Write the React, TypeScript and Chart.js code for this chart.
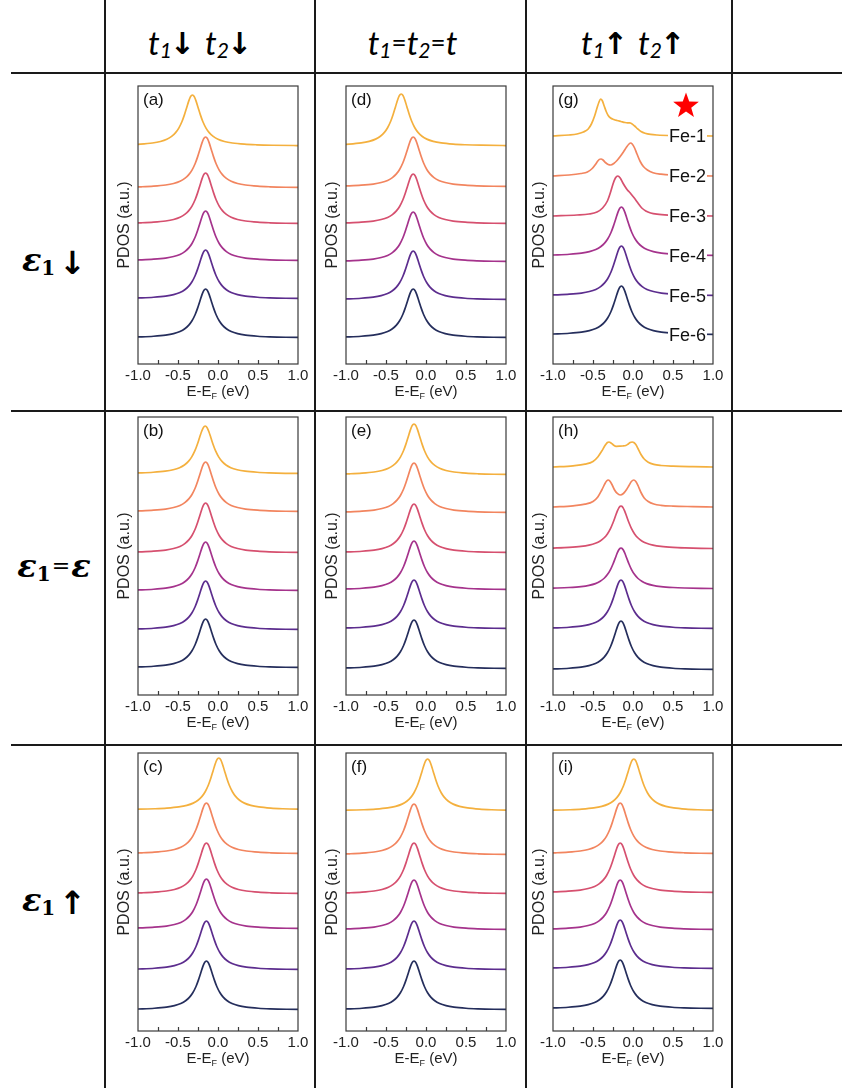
import React, { useEffect, useRef } from "react";
import { Chart, registerables } from "chart.js";

Chart.register(...registerables);

// ---------------- data ----------------
const X_TICKS = [-1, -0.5, 0, 0.5, 1];
const MINOR_TICKS = [-0.75, -0.5, -0.25, 0, 0.25, 0.5, 0.75];
const Y_RANGE = [0, 278];
const SERIES_NAMES = ["Fe-1", "Fe-2", "Fe-3", "Fe-4", "Fe-5", "Fe-6"];
const SERIES_COLORS = ["#F4B03E", "#F2855F", "#D6506F", "#A5338C", "#5C2D8E", "#252E5C"];

// single-peak profile (energy offset from peak, relative height)
const PEAK_DE = [-1.5, -1.3, -1.0, -0.8, -0.65, -0.5, -0.4, -0.32, -0.26, -0.21, -0.17, -0.13, -0.1, -0.07, -0.045, -0.025, -0.01, 0, 0.01, 0.025, 0.045, 0.07, 0.1, 0.13, 0.17, 0.21, 0.26, 0.32, 0.4, 0.5, 0.65, 0.8, 1.0, 1.3, 1.5];
const PEAK_Y = [0.007, 0.009, 0.015, 0.024, 0.036, 0.059, 0.089, 0.132, 0.188, 0.262, 0.351, 0.48, 0.61, 0.761, 0.885, 0.962, 0.994, 1, 0.994, 0.962, 0.885, 0.761, 0.61, 0.48, 0.351, 0.262, 0.188, 0.132, 0.089, 0.059, 0.036, 0.024, 0.015, 0.009, 0.007];

// panel (g) special curves (energy, height above baseline)
const G_FE1_E = [-1.0, -0.8, -0.7, -0.62, -0.56, -0.52, -0.48, -0.45, -0.425, -0.405, -0.385, -0.36, -0.335, -0.31, -0.28, -0.24, -0.2, -0.15, -0.1, -0.07, -0.04, -0.02, 0.02, 0.06, 0.1, 0.15, 0.22, 0.3, 0.5, 0.75, 1.0];
const G_FE1_Y = [0, 1, 2, 4, 7, 12, 20, 28, 34, 37, 35.5, 30, 24.5, 20.5, 18, 16.5, 15.5, 14.5, 13.5, 13.2, 13.2, 12.5, 10, 7, 4.5, 2.8, 1.6, 1, 0.4, 0.2, 0];
const G_FE2_E = [-1.0, -0.8, -0.65, -0.57, -0.51, -0.47, -0.44, -0.42, -0.4, -0.375, -0.345, -0.31, -0.28, -0.24, -0.2, -0.16, -0.12, -0.08, -0.05, -0.03, -0.01, 0.02, 0.05, 0.09, 0.13, 0.18, 0.25, 0.35, 0.5, 0.7, 1.0];
const G_FE2_Y = [0, 1, 2.5, 4, 7.5, 11.5, 15, 16.6, 17, 16, 13.5, 11.5, 11, 12.5, 15.5, 19.5, 24, 29, 32, 33, 32, 28, 22, 14.5, 9.5, 6, 3.3, 1.8, 0.9, 0.4, 0];
const G_FE3_E = [-1.0, -0.7, -0.55, -0.45, -0.38, -0.32, -0.28, -0.25, -0.22, -0.19, -0.16, -0.13, -0.1, -0.07, -0.04, -0.01, 0.03, 0.07, 0.11, 0.16, 0.22, 0.3, 0.45, 0.7, 1.0];
const G_FE3_Y = [0, 1, 2, 4, 8, 15, 24, 32, 38, 40, 38, 33.5, 29.5, 26, 23.5, 20.5, 16.5, 12, 8, 5, 3, 1.8, 0.9, 0.4, 0];

// panel (h) special curves
const H_FE1_E = [-1.0, -0.75, -0.6, -0.5, -0.44, -0.39, -0.35, -0.32, -0.3, -0.275, -0.245, -0.21, -0.17, -0.13, -0.09, -0.06, -0.035, -0.01, 0.01, 0.035, 0.065, 0.1, 0.14, 0.19, 0.26, 0.35, 0.5, 0.75, 1.0];
const H_FE1_Y = [0, 1.2, 2.8, 5.5, 10, 16, 21.5, 24.5, 25, 24, 22, 20.7, 20.8, 21, 21.5, 23, 24.5, 25, 24.5, 22.5, 18, 12.5, 8, 4.8, 2.6, 1.5, 0.8, 0.3, 0];
const H_FE2_E = [-1.0, -0.75, -0.6, -0.5, -0.44, -0.39, -0.35, -0.33, -0.31, -0.29, -0.26, -0.23, -0.2, -0.16, -0.12, -0.08, -0.05, -0.02, 0.01, 0.035, 0.065, 0.1, 0.14, 0.19, 0.26, 0.35, 0.5, 0.75, 1.0];
const H_FE2_Y = [0, 1.2, 2.8, 5.5, 10, 17, 23.5, 26, 27, 26, 22, 17, 13.8, 12, 13.5, 17.5, 21.5, 25.5, 27, 25.5, 21, 14.5, 9, 5.5, 3, 1.7, 0.9, 0.4, 0];

// per-panel baselines (stack offsets), peak heights and peak centres
const BASE_A = [218, 176, 140, 103, 65, 26];
const AMP_A = [51, 51, 51, 50, 49, 49];
const CENTER_A = [-0.32, -0.155, -0.155, -0.155, -0.155, -0.155];
const BASE_B = [221, 183, 142, 104, 65, 27];
const AMP_B = [48, 50, 50, 49, 49, 49];
const CENTER_B = [-0.16, -0.155, -0.155, -0.155, -0.155, -0.155];
const BASE_C = [221, 177, 137, 102, 61, 21];
const AMP_C = [52, 51, 51, 50, 49, 49];
const CENTER_C = [0.01, -0.145, -0.145, -0.145, -0.145, -0.145];
const BASE_D = [218, 177, 140, 102, 64, 26];
const AMP_D = [52, 50, 50, 50, 49, 49];
const CENTER_D = [-0.31, -0.16, -0.16, -0.16, -0.16, -0.16];
const BASE_E = [220, 182, 142, 105, 66, 26];
const AMP_E = [51, 50, 49, 49, 49, 49];
const CENTER_E = [-0.15, -0.15, -0.15, -0.15, -0.15, -0.15];
const BASE_F = [220, 176, 137, 101, 61, 21];
const AMP_F = [52, 51, 51, 50, 49, 49];
const CENTER_F = [0.02, -0.15, -0.15, -0.15, -0.15, -0.15];
const BASE_G = [228, 188, 148, 108, 68, 29];
const AMP_G = [0, 0, 0, 49, 50, 49];
const CENTER_G = [0, 0, 0, -0.145, -0.145, -0.145];
const BASE_H = [228, 188, 146, 106, 66, 25];
const AMP_H = [0, 0, 43, 41, 49, 49];
const CENTER_H = [0, 0, -0.15, -0.15, -0.15, -0.15];
const BASE_I = [220, 177, 138, 101, 62, 22];
const AMP_I = [52, 51, 50, 50, 49, 49];
const CENTER_I = [0.01, -0.16, -0.16, -0.16, -0.16, -0.16];

const COL_HEADERS = ["t1↓t2↓", "t1=t2=t", "t1↑t2↑"];
const ROW_HEADERS = ["ε1↓", "ε1=ε", "ε1↑"];

// ---------------- layout ----------------
const COL_LEFT = [138, 346, 553];
const ROW_TOP = [86, 417, 753];
const PLOT_W = 160;
const PLOT_H = 278;
const PAD_L = 32;
const PAD_T = 4;
const PAD_R = 16;
const PAD_B = 46;
const CANVAS_W = PLOT_W + PAD_L + PAD_R;
const CANVAS_H = PLOT_H + PAD_T + PAD_B;
const FONT = '"Liberation Sans", Arial, sans-serif';
const FRAME = "#3a3a3a";

type Curve = { e: number[]; y: number[] };
type PanelSpec = { id: string; row: number; col: number; base: number[]; curves: Curve[]; labels?: boolean };

function peakCurve(center: number, amp: number): Curve {
  return { e: PEAK_DE.map((d) => center + d), y: PEAK_Y.map((v) => v * amp) };
}

function buildCurves(centers: number[], amps: number[], custom: (Curve | null)[] = []): Curve[] {
  return centers.map((c, i) => custom[i] || peakCurve(c, amps[i]));
}

const PANELS: PanelSpec[] = [
  { id: "a", row: 0, col: 0, base: BASE_A, curves: buildCurves(CENTER_A, AMP_A) },
  { id: "b", row: 1, col: 0, base: BASE_B, curves: buildCurves(CENTER_B, AMP_B) },
  { id: "c", row: 2, col: 0, base: BASE_C, curves: buildCurves(CENTER_C, AMP_C) },
  { id: "d", row: 0, col: 1, base: BASE_D, curves: buildCurves(CENTER_D, AMP_D) },
  { id: "e", row: 1, col: 1, base: BASE_E, curves: buildCurves(CENTER_E, AMP_E) },
  { id: "f", row: 2, col: 1, base: BASE_F, curves: buildCurves(CENTER_F, AMP_F) },
  {
    id: "g", row: 0, col: 2, base: BASE_G, labels: true,
    curves: buildCurves(CENTER_G, AMP_G, [
      { e: G_FE1_E, y: G_FE1_Y },
      { e: G_FE2_E, y: G_FE2_Y },
      { e: G_FE3_E, y: G_FE3_Y },
    ]),
  },
  {
    id: "h", row: 1, col: 2, base: BASE_H,
    curves: buildCurves(CENTER_H, AMP_H, [
      { e: H_FE1_E, y: H_FE1_Y },
      { e: H_FE2_E, y: H_FE2_Y },
    ]),
  },
  { id: "i", row: 2, col: 2, base: BASE_I, curves: buildCurves(CENTER_I, AMP_I) },
];

function drawStar(ctx: CanvasRenderingContext2D, cx: number, cy: number, R: number, r: number) {
  ctx.beginPath();
  for (let i = 0; i < 10; i++) {
    const a = -Math.PI / 2 + (i * Math.PI) / 5;
    const rad = i % 2 === 0 ? R : r;
    const px = cx + rad * Math.cos(a);
    const py = cy + rad * Math.sin(a);
    if (i === 0) ctx.moveTo(px, py);
    else ctx.lineTo(px, py);
  }
  ctx.closePath();
  ctx.fillStyle = "#FF0000";
  ctx.fill();
}

function makePlugin(spec: PanelSpec) {
  return {
    id: "panelDecor",
    afterDatasetsDraw(chart: any) {
      const ctx: CanvasRenderingContext2D = chart.ctx;
      const ca = chart.chartArea;
      const xs = chart.scales.x;
      const ys = chart.scales.y;
      ctx.save();
      if (spec.labels) {
        ctx.font = `18px ${FONT}`;
        ctx.textAlign = "right";
        ctx.textBaseline = "middle";
        SERIES_NAMES.forEach((name, i) => {
          const y = ys.getPixelForValue(spec.base[i]);
          const xr = ca.right - 7;
          const w = ctx.measureText(name).width;
          ctx.fillStyle = "#ffffff";
          ctx.fillRect(xr - w - 1, y - 9, w + 2, 19);
          ctx.fillStyle = "#111111";
          ctx.fillText(name, xr, y + 1);
        });
        drawStar(ctx, ca.left + 133, ca.top + 20, 13.5, 5.5);
      }
      ctx.strokeStyle = FRAME;
      ctx.lineWidth = 1.2;
      ctx.strokeRect(ca.left, ca.top, ca.right - ca.left, ca.bottom - ca.top);
      ctx.beginPath();
      MINOR_TICKS.forEach((v) => {
        const x = Math.round(xs.getPixelForValue(v)) + 0.5;
        ctx.moveTo(x, ca.bottom);
        ctx.lineTo(x, ca.bottom - 4);
      });
      ctx.stroke();
      ctx.fillStyle = "#111111";
      ctx.font = `17px ${FONT}`;
      ctx.textAlign = "left";
      ctx.textBaseline = "middle";
      ctx.fillText(`(${spec.id})`, ca.left + 5, ca.top + 14);
      const cx = (ca.left + ca.right) / 2;
      const ty = ca.bottom + 28;
      const mainFont = `15px ${FONT}`;
      const subFont = `9px ${FONT}`;
      ctx.font = mainFont;
      const w1 = ctx.measureText("E-E").width;
      const w3 = ctx.measureText(" (eV)").width;
      ctx.font = subFont;
      const w2 = ctx.measureText("F").width;
      let x0 = cx - (w1 + w2 + w3) / 2;
      ctx.fillStyle = "#222222";
      ctx.font = mainFont;
      ctx.fillText("E-E", x0, ty);
      x0 += w1;
      ctx.font = subFont;
      ctx.fillText("F", x0, ty + 5);
      x0 += w2;
      ctx.font = mainFont;
      ctx.fillText(" (eV)", x0, ty);
      ctx.restore();
    },
  };
}

function Panel({ spec }: { spec: PanelSpec }) {
  const ref = useRef<HTMLCanvasElement>(null);
  useEffect(() => {
    const datasets = spec.curves.map((c, i) => ({
      label: SERIES_NAMES[i],
      data: c.e.map((x, k) => ({ x, y: c.y[k] + spec.base[i] })),
      borderColor: SERIES_COLORS[i],
      borderWidth: 1.7,
      pointRadius: 0,
      fill: false,
      cubicInterpolationMode: "monotone" as const,
    }));
    const chart = new Chart(ref.current as HTMLCanvasElement, {
      type: "line",
      data: { datasets },
      options: {
        animation: false,
        responsive: false,
        maintainAspectRatio: false,
        layout: { padding: { left: 0, top: PAD_T, right: PAD_R, bottom: 0 } },
        plugins: { legend: { display: false }, tooltip: { enabled: false } },
        scales: {
          x: {
            type: "linear",
            min: X_TICKS[0],
            max: X_TICKS[X_TICKS.length - 1],
            afterBuildTicks: (s: any) => {
              s.ticks = X_TICKS.map((v) => ({ value: v }));
            },
            afterFit: (s: any) => {
              s.height = PAD_B;
            },
            ticks: {
              callback: (v: any) => Number(v).toFixed(1),
              font: { family: FONT, size: 15 },
              color: "#222222",
              padding: 3,
              maxRotation: 0,
              autoSkip: false,
            },
            grid: { display: false, drawTicks: false },
            border: { display: false },
          },
          y: {
            type: "linear",
            min: Y_RANGE[0],
            max: Y_RANGE[1],
            afterFit: (s: any) => {
              s.width = PAD_L;
            },
            ticks: { display: false },
            grid: { display: false, drawTicks: false },
            border: { display: false },
            title: {
              display: true,
              text: "PDOS (a.u.)",
              font: { family: FONT, size: 16 },
              color: "#222222",
              padding: { top: 9.4, bottom: 0 },
            },
          },
        },
      } as any,
      plugins: [makePlugin(spec)],
    });
    return () => chart.destroy();
  }, [spec]);
  return (
    <canvas
      ref={ref}
      width={CANVAS_W}
      height={CANVAS_H}
      style={{
        position: "absolute",
        left: COL_LEFT[spec.col] - PAD_L,
        top: ROW_TOP[spec.row] - PAD_T,
        width: CANVAS_W,
        height: CANVAS_H,
      }}
    />
  );
}

const LINE = "#1a1a1a";
const V_LINES = [105, 315, 526, 732];
const H_LINES = [73, 411, 745];
const ROW_LABEL_Y = [260, 566, 900];
const COL_CELLS = [
  [95, 305],
  [307, 518],
  [530, 736],
];

const tStyle: React.CSSProperties = { fontFamily: "Lato, sans-serif", fontStyle: "italic", fontSize: 33 };
const subStyle: React.CSSProperties = { fontFamily: "Lato, sans-serif", fontStyle: "italic", fontSize: 21, position: "relative", top: 7 };
const arrowStyle: React.CSSProperties = { fontFamily: '"DejaVu Sans", sans-serif', fontWeight: "bold", fontStyle: "normal", fontSize: 30, position: "relative", top: 2 };

function ColHeader({ idx }: { idx: number }) {
  const txt = COL_HEADERS[idx];
  let content: React.ReactNode;
  if (idx === 1) {
    content = (
      <>
        <span style={tStyle}>t</span>
        <span style={subStyle}>{txt[1]}</span>
        <span style={{ ...tStyle, fontStyle: "normal", fontSize: 26 }}>=</span>
        <span style={tStyle}>t</span>
        <span style={subStyle}>{txt[4]}</span>
        <span style={{ ...tStyle, fontStyle: "normal", fontSize: 26 }}>=</span>
        <span style={tStyle}>t</span>
      </>
    );
  } else {
    content = (
      <>
        <span style={tStyle}>t</span>
        <span style={subStyle}>{txt[1]}</span>
        <span style={{ ...arrowStyle, marginLeft: -2 }}>{txt[2]}</span>
        <span style={{ display: "inline-block", width: 10 }} />
        <span style={tStyle}>t</span>
        <span style={subStyle}>{txt[4]}</span>
        <span style={{ ...arrowStyle, marginLeft: -2 }}>{txt[5]}</span>
      </>
    );
  }
  const [l, r] = COL_CELLS[idx];
  return (
    <div
      style={{
        position: "absolute",
        left: l,
        width: r - l,
        top: 12,
        height: 60,
        display: "flex",
        alignItems: "center",
        justifyContent: "center",
        whiteSpace: "nowrap",
        color: "#000",
        lineHeight: 1,
      }}
    >
      {content}
    </div>
  );
}

const epsStyle: React.CSSProperties = { fontFamily: '"DejaVu Serif", serif', fontWeight: "bold", fontStyle: "italic", fontSize: 32 };
const epsSub: React.CSSProperties = { fontFamily: '"DejaVu Serif", serif', fontWeight: "bold", fontSize: 20, position: "relative", top: 8 };

function RowHeader({ idx }: { idx: number }) {
  const txt = ROW_HEADERS[idx];
  return (
    <div
      style={{
        position: "absolute",
        left: 4,
        width: 100,
        top: ROW_LABEL_Y[idx] - 25,
        height: 50,
        display: "flex",
        alignItems: "center",
        justifyContent: "center",
        whiteSpace: "nowrap",
        color: "#000",
        lineHeight: 1,
      }}
    >
      <span style={epsStyle}>{txt[0]}</span>
      <span style={epsSub}>{txt[1]}</span>
      {idx === 1 ? (
        <>
          <span style={{ fontFamily: '"DejaVu Sans", sans-serif', fontSize: 22, margin: "0 1px" }}>=</span>
          <span style={epsStyle}>{txt[3]}</span>
        </>
      ) : (
        <span style={{ ...arrowStyle, fontSize: 32, marginLeft: 4, top: 3 }}>{txt[2]}</span>
      )}
    </div>
  );
}

export default function App() {
  return (
    <div style={{ position: "absolute", left: 0, top: 0, width: 842, height: 1088, background: "#fff", overflow: "hidden" }}>
      {V_LINES.map((x) => (
        <div key={"v" + x} style={{ position: "absolute", left: x - 0.75, top: 0, width: 1.5, height: 1088, background: LINE }} />
      ))}
      {H_LINES.map((y) => (
        <div key={"h" + y} style={{ position: "absolute", left: 11, top: y - 0.75, width: 842 - 11, height: 1.5, background: LINE }} />
      ))}
      {COL_HEADERS.map((_, i) => (
        <ColHeader key={"c" + i} idx={i} />
      ))}
      {ROW_HEADERS.map((_, i) => (
        <RowHeader key={"r" + i} idx={i} />
      ))}
      {PANELS.map((p) => (
        <Panel key={p.id} spec={p} />
      ))}
    </div>
  );
}
